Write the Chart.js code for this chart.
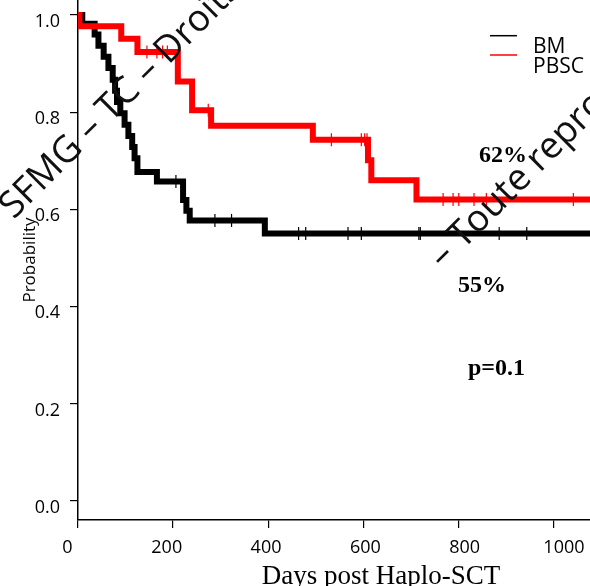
<!DOCTYPE html>
<html>
<head>
<meta charset="utf-8">
<title>Survival after Haplo-SCT by graft source</title>
<script src="https://cdn.jsdelivr.net/npm/chart.js@4.4.1/dist/chart.umd.min.js"></script>
<style>
  html, body { margin: 0; padding: 0; background: #fff; }
  #wrap { width: 590px; height: 586px; }
</style>
</head>
<body>
<div id="wrap"><canvas id="km" width="590" height="586"></canvas></div>
<script>
// Kaplan-Meier curves: day of each drop and the survival after it
var bmDays = [0, 9, 35, 43, 54, 64, 73, 78, 82, 89, 98, 106, 114, 119, 125, 166, 221, 228, 235, 393, 631, 1080];
var bmSurv = [1.0, 0.982, 0.960, 0.937, 0.914, 0.891, 0.867, 0.844, 0.821, 0.798, 0.774, 0.751, 0.728, 0.705, 0.677, 0.657, 0.619, 0.597, 0.577, 0.550, 0.550, 0.550];
var bmCensored = [206, 288, 323, 464, 479, 568, 596, 717, 720, 886, 944];

var pbscDays = [0, 3, 91, 125, 210, 240, 280, 494, 610, 617, 712, 1080];
var pbscSurv = [1.0, 0.977, 0.951, 0.924, 0.863, 0.804, 0.772, 0.743, 0.701, 0.660, 0.620, 0.620];
var pbscCensored = [145, 166, 178, 188, 274, 533, 596, 603, 608, 768, 789, 801, 833, 859, 1042];

var xTicks = [0, 200, 400, 600, 800, 1000];
var yTicks = [0, 0.2, 0.4, 0.6, 0.8, 1.0];

var BLACK = '#000000';
var RED = '#FF0000';
var SANS = "'Open Sans', 'Noto Sans', sans-serif";
var SERIF = "'Liberation Serif', 'DejaVu Serif', serif";

function stepValue(days, surv, t) {
  var v = surv[0];
  for (var i = 0; i < days.length; i++) {
    if (days[i] <= t) v = surv[i];
  }
  return v;
}

function curve(days, surv) {
  return days.map(function (d, i) { return { x: d, y: surv[i] }; });
}

function censorMarks(days, surv, marks) {
  return marks.map(function (t) { return { x: t, y: stepValue(days, surv, t) }; });
}

function fixedTicks(values) {
  return function (s) { s.ticks = values.map(function (v) { return { value: v }; }); };
}

function stepLine(label, days, surv, color) {
  return {
    label: label,
    data: curve(days, surv),
    borderColor: color,
    borderWidth: 6,
    borderJoinStyle: 'miter',
    borderCapStyle: 'butt',
    stepped: 'before',
    pointRadius: 0,
    fill: false,
  };
}

function ticksLine(label, days, surv, marks, color) {
  return {
    label: label,
    data: censorMarks(days, surv, marks),
    showLine: false,
    pointStyle: 'line',
    rotation: 90,
    pointRadius: 6.5,
    borderColor: color,
    borderWidth: 1.2,
    backgroundColor: color,
  };
}

// legend, percentages, axis caption and the diagonal notice
var decor = {
  id: 'decor',
  afterDraw: function (chart) {
    var ctx = chart.ctx;
    ctx.save();

    ctx.lineWidth = 1.5;
    ctx.strokeStyle = BLACK;
    ctx.beginPath(); ctx.moveTo(490, 35.7); ctx.lineTo(517, 35.7); ctx.stroke();
    ctx.strokeStyle = RED;
    ctx.beginPath(); ctx.moveTo(490, 55); ctx.lineTo(517, 55); ctx.stroke();

    ctx.fillStyle = BLACK;
    ctx.textAlign = 'left';
    ctx.textBaseline = 'alphabetic';
    ctx.font = '21px ' + SANS;
    ctx.fillText('BM', 533, 53.3);
    ctx.fillText('PBSC', 533, 73.3);

    ctx.font = 'bold 24px ' + SERIF;
    ctx.fillText('62%', 479, 161.7);
    ctx.fillText('55%', 458, 291.7);
    ctx.fillText('p=0.1', 468, 375);

    ctx.font = '27px ' + SERIF;
    ctx.textAlign = 'center';
    ctx.fillText('Days post Haplo-SCT', 381, 584);

    ctx.textAlign = 'left';
    ctx.font = '37px ' + SANS;
    ctx.fillStyle = '#111';
    ctx.save();
    ctx.translate(13.75, 220);
    ctx.rotate(-Math.PI / 4);
    ctx.fillText('SFMG – TC – Droits réservés', 0, 0);
    ctx.restore();
    ctx.save();
    ctx.translate(443, 270);
    ctx.rotate(-Math.PI / 4);
    ctx.fillText('– Toute reproduction interdite', 0, 0);
    ctx.restore();

    ctx.restore();
  },
};

new Chart(document.getElementById('km'), {
  type: 'line',
  data: {
    datasets: [
      stepLine('PBSC', pbscDays, pbscSurv, RED),
      ticksLine('PBSC censored', pbscDays, pbscSurv, pbscCensored, RED),
      stepLine('BM', bmDays, bmSurv, BLACK),
      ticksLine('BM censored', bmDays, bmSurv, bmCensored, BLACK),
    ],
  },
  options: {
    responsive: false,
    devicePixelRatio: 1,
    animation: false,
    layout: { padding: 0, autoPadding: false },
    plugins: { legend: { display: false }, tooltip: { enabled: false } },
    scales: {
      // day axis: line and tick marks only
      x: {
        type: 'linear',
        min: 0,
        max: 1077,
        weight: 0,
        afterBuildTicks: fixedTicks(xTicks),
        afterFit: function (s) { s.height = 8; s.paddingLeft = 0; s.paddingRight = 0; },
        grid: { drawOnChartArea: false, drawTicks: true, tickLength: 8, color: BLACK, lineWidth: 1.2 },
        border: { display: true, color: BLACK, width: 1.5 },
        ticks: { display: false },
      },
      // day labels sit on a slightly wider spacing than the tick marks
      xLabels: {
        type: 'linear',
        position: 'bottom',
        min: 21.2,
        max: 1052.5,
        weight: 1,
        afterBuildTicks: fixedTicks(xTicks),
        afterFit: function (s) { s.height = 58; s.paddingLeft = 0; s.paddingRight = 0; },
        grid: { display: false, drawTicks: false },
        border: { display: false },
        ticks: {
          color: BLACK,
          font: { family: SANS, size: 18 },
          padding: 9,
          maxRotation: 0,
          autoSkip: false,
          callback: function (v) { return String(v); },
        },
      },
      y: {
        type: 'linear',
        min: -0.04,
        max: 1.031,
        afterBuildTicks: fixedTicks(yTicks),
        afterFit: function (s) { s.width = 78; s.paddingTop = 0; s.paddingBottom = 0; },
        grid: { drawOnChartArea: false, drawTicks: true, tickLength: 8, color: BLACK, lineWidth: 1.2 },
        border: { display: true, color: BLACK, width: 1.5 },
        ticks: {
          color: BLACK,
          font: { family: SANS, size: 18 },
          padding: 10,
          labelOffset: 7,
          autoSkip: false,
          callback: function (v) { return v.toFixed(1); },
        },
        title: {
          display: true,
          text: 'Probability',
          color: BLACK,
          font: { family: SANS, size: 17 },
          padding: { top: 20, bottom: 0 },
        },
      },
    },
  },
  plugins: [decor],
});
</script>
</body>
</html>
